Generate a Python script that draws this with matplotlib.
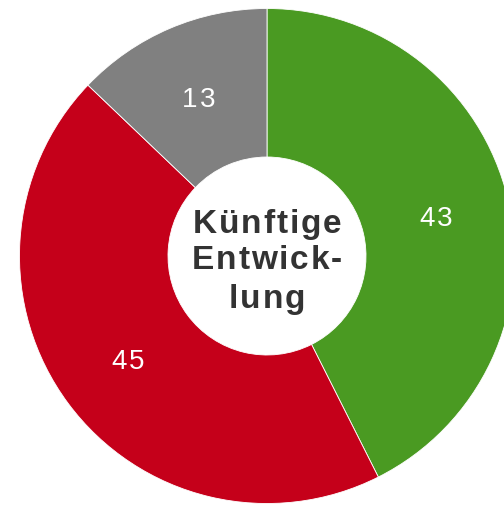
"""Donut chart: Künftige Entwicklung."""

import matplotlib
matplotlib.use("Agg")
import matplotlib.pyplot as plt
import numpy as np
from matplotlib.font_manager import FontProperties
from matplotlib.transforms import offset_copy

values = [43, 45, 13]
labels = ["43", "45", "13"]
colors = ["#4A9A22", "#C5001A", "#808080"]
center_lines = ["Künftige", "Entwick-", "lung"]

fig = plt.figure(figsize=(5.04, 5.05), dpi=100)
ax = fig.add_axes([0, 0, 1, 1])

wedges, _ = ax.pie(
    values,
    startangle=90,
    counterclock=False,
    colors=colors,
    radius=1.0,
    wedgeprops={"width": 0.6, "edgecolor": "white", "linewidth": 0.6},
)

R = 247.5
cx, cy = 267, 249
ax.set_xlim(-cx / R, (504 - cx) / R)
ax.set_ylim(-cy / R, (505 - cy) / R)
ax.set_aspect("auto")
ax.axis("off")

renderer = fig.canvas.get_renderer()


def tracked(x, y, s, prop, track_px, color, dy_px=0.0):
    """Draw s centred on x with extra spacing between letters (baseline at y)."""
    widths = [renderer.get_text_width_height_descent(c, prop, ismath=False)[0]
              for c in s]
    total = sum(widths) + track_px * (len(s) - 1)
    pos = -total / 2
    k = 72.0 / fig.dpi
    for c, w in zip(s, widths):
        tr = offset_copy(ax.transData, fig=fig, x=(pos + w / 2) * k,
                         y=dy_px * k, units="points")
        ax.text(x, y, c, transform=tr, ha="center", va="baseline",
                fontproperties=prop, color=color)
        pos += w + track_px


# value labels in the ring
num_prop = FontProperties(family="Liberation Sans", size=20)
for w, txt in zip(wedges, labels):
    ang = np.deg2rad((w.theta1 + w.theta2) / 2)
    r = 0.70
    tracked(r * np.cos(ang), r * np.sin(ang), txt, num_prop, 2.0, "white",
            dy_px=-10)

# centre title
title_prop = FontProperties(family="Liberation Sans", weight="bold", size=24)
baselines_px = [233, 269, 308]
for line, by in zip(center_lines, baselines_px):
    tracked(0, (505 - by - cy) / R, line, title_prop, 1.8, "#333333")

fig.savefig("out.png", dpi=100)
